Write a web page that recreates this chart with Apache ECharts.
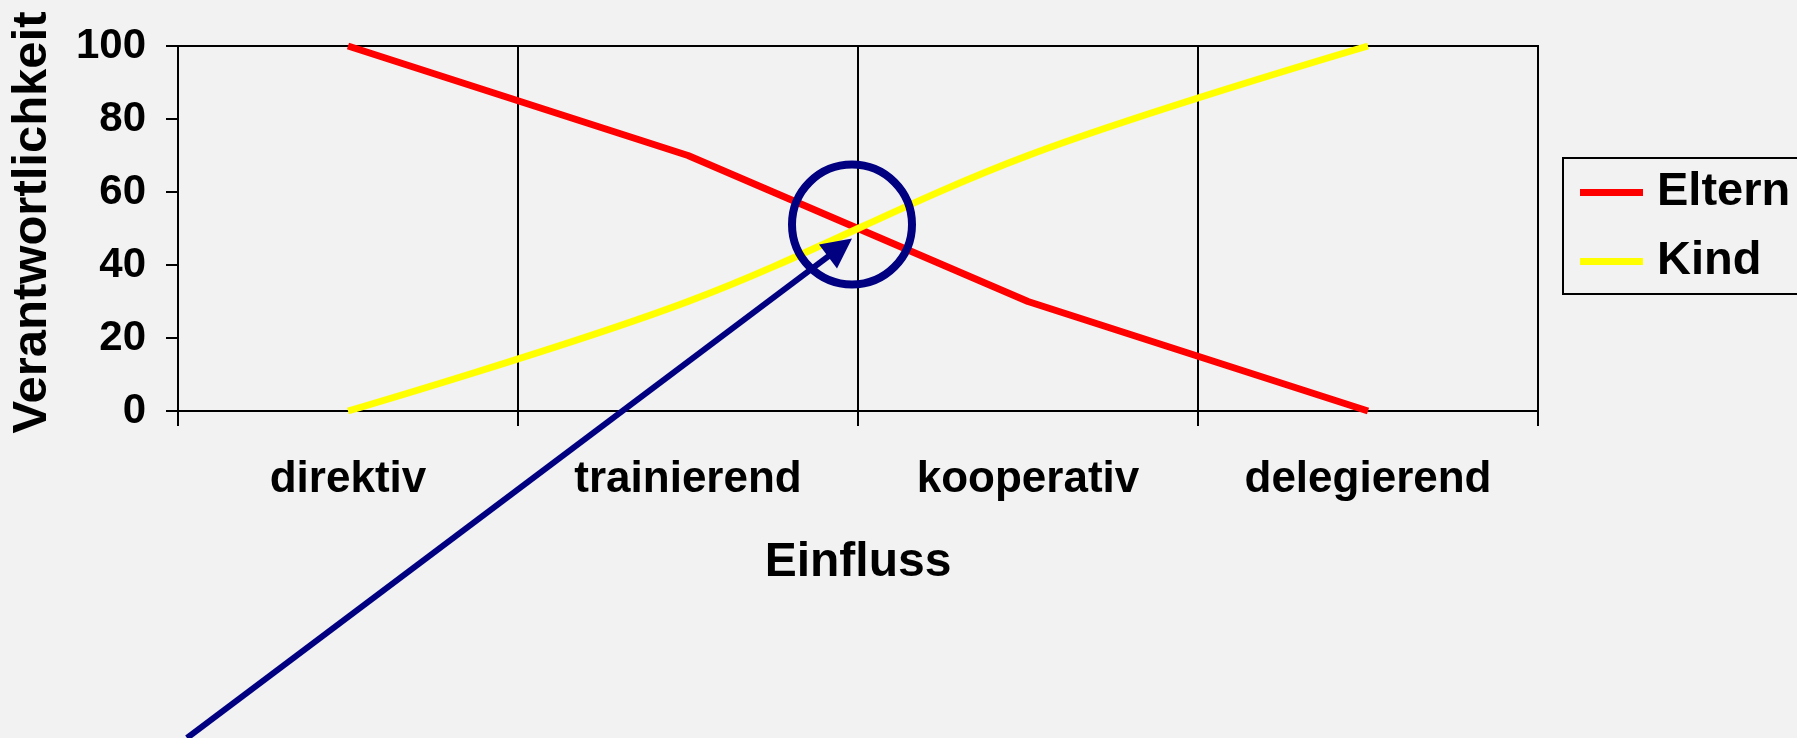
<!DOCTYPE html>
<html>
<head>
<meta charset="utf-8">
<title>Verantwortlichkeit / Einfluss</title>
<script src="https://cdn.jsdelivr.net/npm/echarts@6/dist/echarts.min.js"></script>
<style>
  html, body { margin: 0; padding: 0; background: #f2f2f2; }
  #chart { width: 1797px; height: 738px; }
</style>
</head>
<body>
<div id="chart"></div>
<script>
// Daten
const kategorien = ['direktiv', 'trainierend', 'kooperativ', 'delegierend']
const eltern = [100, 70, 30, 0]
const kind = [0, 30, 70, 100]
const yTicks = [0, 20, 40, 60, 80, 100]

const schrift = '"Liberation Sans", Arial, Helvetica, sans-serif'
const navy = '#000080'

const chart = echarts.init(document.getElementById('chart'))

const option = {
  backgroundColor: '#f2f2f2',
  animation: false,
  grid: {
    left: 178, right: 259, top: 46, bottom: 327,
    show: true, borderColor: '#000', borderWidth: 2, backgroundColor: 'transparent'
  },
  legend: {
    left: 1563, top: 158,
    orient: 'vertical',
    icon: 'rect',
    itemWidth: 63, itemHeight: 7, itemGap: 22,
    padding: [11, 20, 9, 17],
    borderColor: '#000', borderWidth: 2,
    textStyle: { fontFamily: schrift, fontWeight: 'bold', fontSize: 47, color: '#000', padding: [6, 0, 0, 9] }
  },
  xAxis: {
    type: 'category',
    data: kategorien,
    boundaryGap: true,
    name: 'Einfluss',
    nameLocation: 'middle',
    nameGap: 128,
    nameTextStyle: { fontFamily: schrift, fontWeight: 'bold', fontSize: 48, color: '#000' },
    axisLine: { lineStyle: { color: '#000', width: 2 } },
    axisTick: { show: true, length: 15, interval: 0, lineStyle: { color: '#000', width: 2 } },
    axisLabel: { interval: 0, margin: 47, fontFamily: schrift, fontWeight: 'bold', fontSize: 44, color: '#000' },
    splitLine: { show: true, interval: 0, lineStyle: { color: '#000', width: 2 } }
  },
  yAxis: {
    type: 'value',
    min: yTicks[0],
    max: yTicks[yTicks.length - 1],
    interval: yTicks[1] - yTicks[0],
    name: 'Verantwortlichkeit',
    nameLocation: 'middle',
    nameGap: 121,
    nameRotate: 90,
    nameTextStyle: { fontFamily: schrift, fontWeight: 'bold', fontSize: 49, color: '#000', padding: [0, 0, 0, 12] },
    axisLine: { show: true, lineStyle: { color: '#000', width: 2 } },
    axisTick: { show: true, length: 12, lineStyle: { color: '#000', width: 2 } },
    axisLabel: { margin: 32, fontFamily: schrift, fontWeight: 'bold', fontSize: 42, color: '#000' },
    splitLine: { show: false }
  },
  series: [
    {
      name: 'Eltern', type: 'line', data: eltern,
      symbol: 'none', color: '#ff0000',
      lineStyle: { color: '#ff0000', width: 7 }
    },
    {
      name: 'Kind', type: 'line', data: kind,
      symbol: 'none', smooth: 0.35, color: '#ffff00',
      lineStyle: { color: '#ffff00', width: 7 }
    }
  ]
}

chart.setOption(option)

// Markierung: Kreis um den Schnittpunkt und Pfeil von unten links
const p1 = chart.convertToPixel({ xAxisIndex: 0, yAxisIndex: 0 }, [1, 50])
const p2 = chart.convertToPixel({ xAxisIndex: 0, yAxisIndex: 0 }, [2, 50])
const mitte = [(p1[0] + p2[0]) / 2, p1[1]]
const kreis = [mitte[0] - 6, mitte[1] - 4]
const spitze = [mitte[0] - 6, mitte[1] + 10]
const start = [187, 738]
const dx = spitze[0] - start[0], dy = spitze[1] - start[1]
const len = Math.sqrt(dx * dx + dy * dy)
const ux = dx / len, uy = dy / len
const kopfLaenge = 30, kopfBreite = 15
const basis = [spitze[0] - ux * kopfLaenge, spitze[1] - uy * kopfLaenge]

chart.setOption({
  graphic: [
    {
      type: 'circle', z: 100,
      shape: { cx: kreis[0], cy: kreis[1], r: 60 },
      style: { fill: 'none', stroke: navy, lineWidth: 8 }
    },
    {
      type: 'line', z: 100,
      shape: { x1: start[0], y1: start[1], x2: basis[0] + ux * 2, y2: basis[1] + uy * 2 },
      style: { stroke: navy, lineWidth: 6 }
    },
    {
      type: 'polygon', z: 100,
      shape: {
        points: [
          spitze,
          [basis[0] - uy * kopfBreite, basis[1] + ux * kopfBreite],
          [basis[0] + uy * kopfBreite, basis[1] - ux * kopfBreite]
        ]
      },
      style: { fill: navy }
    }
  ]
})

window.onresize = function () {
  chart.resize()
}
</script>
</body>
</html>
